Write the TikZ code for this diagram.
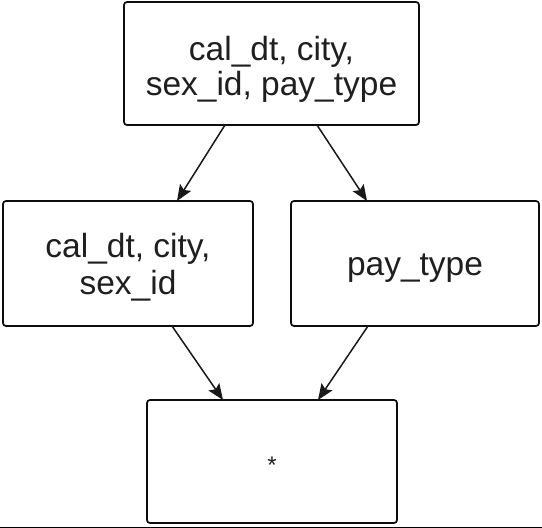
\documentclass[tikz,border=0pt]{standalone}
\usepackage{fontspec}
\setmainfont{Liberation Sans}
\usetikzlibrary{arrows.meta,calc}
\newcommand{\twolines}[4]{\raisebox{-#3}[0pt][0pt]{\fontsize{33.5}{#4}\selectfont\begin{tabular}[b]{@{}c@{}}#1\\#2\end{tabular}}}
\begin{document}
\begin{tikzpicture}[x=1pt,y=-1pt,
  box/.style={draw=black!95, line width=1.7pt, rounded corners=3pt, fill=white,
    font=\fontsize{33.5}{36}\selectfont, text=black!88,
    inner sep=0pt, outer sep=0pt},
  conn/.style={line width=1.5pt, draw=black!90, -{Stealth[length=16pt,width=13pt,inset=3pt]}}]
\useasboundingbox[fill=white] (0,0) rectangle (542,528);
\node[box, minimum width=295pt, minimum height=123pt] (top) at (271.5,63.5) {\twolines{cal\_dt, city,}{sex\_id, pay\_type}{31.5pt}{33.5pt}};
\node[box, minimum width=250pt, minimum height=125pt] (left) at (128,263.5) {\twolines{cal\_dt, city,}{sex\_id}{30.5pt}{37pt}};
\node[box, minimum width=248pt, minimum height=125pt] (right) at (415,263.5) {\raisebox{-11.5pt}[0pt][0pt]{pay\_type}};
\node[box, minimum width=250pt, minimum height=123pt] (bot) at (272,461.5) {\fontsize{24}{26}\selectfont\raisebox{-12pt}[0pt][0pt]{*}};
\draw[conn] ($(top.south)+(-46.5,0)$) -- ($(left.north)+(49,0)$);
\draw[conn] ($(top.south)+(45.5,0)$) -- ($(right.north)+(-48,0)$);
\draw[conn] ($(left.south)+(44,0)$) -- ($(bot.north)+(-49,0)$);
\draw[conn] ($(right.south)+(-47,0)$) -- ($(bot.north)+(46,0)$);
\coordinate (bl) at (0,527.3);
\coordinate (br) at (542,527.3);
\draw[line width=1.4pt, black] (bl) -- (br);
\end{tikzpicture}
\end{document}
